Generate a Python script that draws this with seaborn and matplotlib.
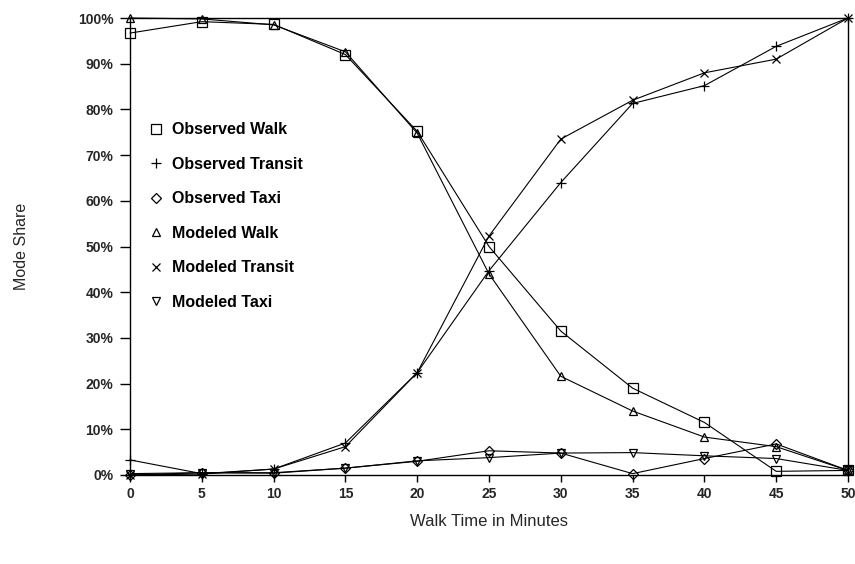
import matplotlib
matplotlib.use("Agg")
import matplotlib.pyplot as plt
from matplotlib.lines import Line2D
import seaborn as sns
import pandas as pd

walk_time = [0, 5, 10, 15, 20, 25, 30, 35, 40, 45, 50]

observed_walk = [96.7, 99.2, 98.6, 92.0, 75.2, 50.0, 31.5, 19.0, 11.5, 0.8, 1.0]
observed_transit = [3.3, 0.3, 1.3, 7.0, 22.4, 44.7, 64.0, 81.3, 85.2, 93.8, 100.0]
observed_taxi = [0.0, 0.5, 0.4, 1.5, 3.0, 5.3, 4.8, 0.3, 3.6, 6.8, 1.0]
modeled_walk = [100.0, 99.8, 98.5, 92.6, 74.8, 44.0, 21.6, 14.0, 8.3, 6.2, 1.0]
modeled_transit = [0.0, 0.2, 1.3, 6.2, 22.4, 52.3, 73.5, 82.0, 88.0, 91.0, 100.0]
modeled_taxi = [0.3, 0.5, 0.5, 1.5, 3.1, 3.8, 4.8, 4.9, 4.2, 3.6, 1.0]

series_names = ["Observed Walk", "Observed Transit", "Observed Taxi",
                "Modeled Walk", "Modeled Transit", "Modeled Taxi"]
series_values = [observed_walk, observed_transit, observed_taxi,
                 modeled_walk, modeled_transit, modeled_taxi]
markers = ["s", "+", "D", "^", "x", "v"]
marker_sizes = [7, 7, 5, 6, 6, 6]

y_ticks = list(range(0, 101, 10))
y_tick_labels = [f"{t}%" for t in y_ticks]
x_ticks = walk_time

rows = []
for name, vals in zip(series_names, series_values):
    for x, v in zip(walk_time, vals):
        rows.append({"Walk Time": x, "Share": v, "Series": name})
df = pd.DataFrame(rows)

sns.set_theme(style="ticks")
plt.rcParams["font.family"] = ["Liberation Sans", "DejaVu Sans"]

fig = plt.figure(figsize=(8.55, 5.64), dpi=100)
ax = fig.add_axes([130 / 855, 1 - 475 / 564, (848 - 130) / 855, (475 - 18) / 564])

for name, m, ms in zip(series_names, markers, marker_sizes):
    sub = df[df["Series"] == name]
    sns.lineplot(data=sub, x="Walk Time", y="Share", ax=ax, color="black",
                 linewidth=0.8, marker=m, markersize=ms, legend=False,
                 markerfacecolor="none", markeredgecolor="black",
                 markeredgewidth=0.9, clip_on=False)

for ln in ax.lines:
    ln.set_markerfacecolor("none")
    ln.set_markeredgecolor("black")

ax.set_xlim(0, 50)
ax.set_ylim(0, 100)
ax.set_xticks(x_ticks)
ax.set_xticklabels([str(t) for t in x_ticks], fontsize=10, fontweight="bold")
ax.set_yticks(y_ticks)
ax.set_yticklabels(y_tick_labels, fontsize=10, fontweight="bold")
ax.tick_params(axis="y", length=7, width=1, color="black", pad=5)
ax.tick_params(axis="x", length=5, width=1, color="black", pad=4)
for s in ax.spines.values():
    s.set_color("black")
    s.set_linewidth(1.0)
    s.set_visible(True)

ax.set_xlabel("Walk Time in Minutes", fontsize=12, labelpad=9)
ax.set_ylabel("Mode Share", fontsize=11.5, labelpad=35)

handles = [Line2D([], [], linestyle="none", marker=m, markersize=ms * 0.95,
                  markerfacecolor="none", markeredgecolor="black",
                  markeredgewidth=0.9)
           for m, ms in zip(markers, marker_sizes)]
leg = ax.legend(handles, series_names, loc="upper left",
                bbox_to_anchor=(134 / 855, 1 - 108 / 564),
                bbox_transform=fig.transFigure, frameon=False,
                prop={"size": 11.5, "weight": "bold"},
                labelspacing=1.22, handlelength=1.0,
                handletextpad=0.5)
for t in leg.get_texts():
    t.set_color("black")

fig.savefig("out.png", dpi=100, facecolor="white")
